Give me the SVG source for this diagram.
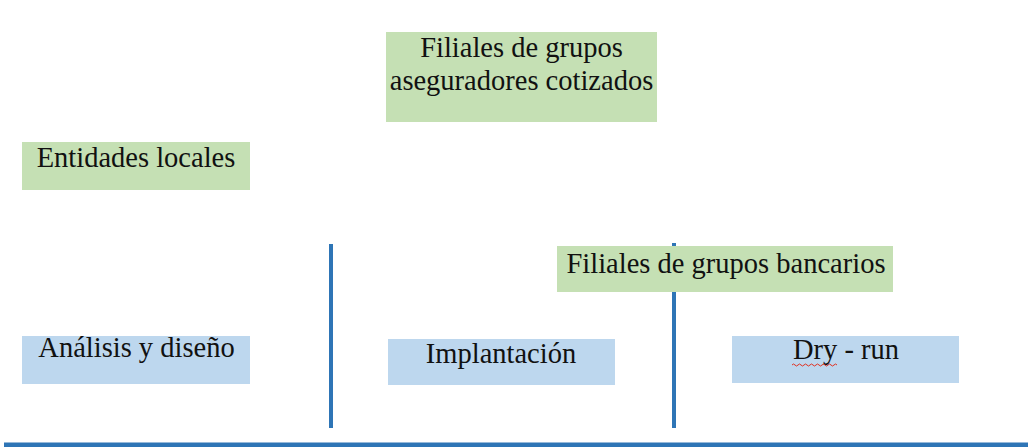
<svg xmlns="http://www.w3.org/2000/svg" width="1028" height="447" viewBox="0 0 1028 447">
<style>
.g{fill:#C5E0B4}
.b{fill:#BDD7EE}
.t{font-family:"Liberation Serif","Times New Roman",serif;font-size:28.5px;fill:#111;text-anchor:middle}
.ln{stroke:#2E75B6;stroke-width:4;fill:none}
</style>
<rect width="1028" height="447" fill="#fff"/>
<g id="connectors">
<line class="ln" x1="331" y1="244" x2="331" y2="428"/>
<line class="ln" x1="674" y1="243" x2="674" y2="428"/>
<line x1="4" y1="445" x2="1028" y2="445" stroke="#2E75B6" stroke-width="5"/>
</g>
<g id="n-cotizados">
<rect class="g" x="386" y="32" width="271" height="90"/>
<text class="t" x="521.5" y="57">Filiales de grupos</text>
<text class="t" x="521.5" y="90">aseguradores cotizados</text>
</g>
<g id="n-locales">
<rect class="g" x="22" y="142" width="228" height="48"/>
<text class="t" x="136" y="167">Entidades locales</text>
</g>
<g id="n-bancarios">
<rect class="g" x="557" y="246" width="336" height="46"/>
<text class="t" x="726" y="273">Filiales de grupos bancarios</text>
</g>
<g id="n-analisis">
<rect class="b" x="22" y="336" width="228" height="48"/>
<text class="t" x="136.5" y="357">Análisis y diseño</text>
</g>
<g id="n-implantacion">
<rect class="b" x="388" y="339" width="227" height="46"/>
<text class="t" x="501" y="363">Implantación</text>
</g>
<g id="n-dryrun">
<rect class="b" x="732" y="336" width="227" height="47"/>
<text class="t" x="846" y="359">Dry - run</text>
<path d="M792 365 q1.5 -2 3 0 t3 0 t3 0 t3 0 t3 0 t3 0 t3 0 t3 0 t3 0 t3 0 t3 0 t3 0 t3 0 t3 0 t3 0" fill="none" stroke="#E03020" stroke-width="1"/>
</g>
</svg>
